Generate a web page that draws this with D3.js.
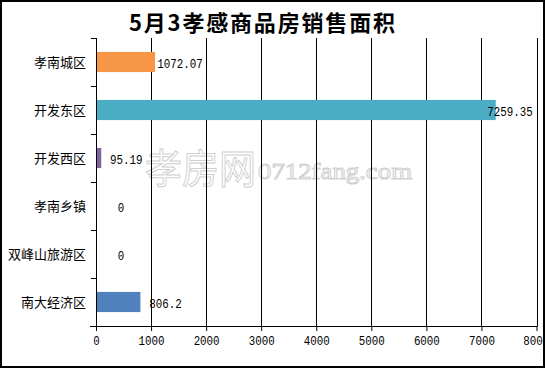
<!DOCTYPE html>
<html><head><meta charset="utf-8">
<script src="https://cdn.jsdelivr.net/npm/d3@7"></script>
<style>body{margin:0;background:#fff}svg{display:block}</style>
</head><body>
<svg id="c" width="546" height="369"></svg>
<script>
const title = "5月3孝感商品房销售面积";
const categories = ["孝南城区","开发东区","开发西区","孝南乡镇","双峰山旅游区","南大经济区"];
const values = [1072.07, 7259.35, 95.19, 0, 0, 806.2];
const valueLabels = ["1072.07","7259.35","95.19","0","0","806.2"];
const colors = ["#F79646","#4BACC6","#8064A2","#9BBB59","#C0504D","#4F81BD"];
const xTicks = [0,1000,2000,3000,4000,5000,6000,7000,8000];
const xTickLabels = ["0","1000","2000","3000","4000","5000","6000","7000","800"];

const svg = d3.select("#c");
const L = 96, R = 536.5, T = 38, B = 326;
const x = d3.scaleLinear().domain([0,8000]).range([L,R]);
const y = d3.scaleBand().domain(categories).range([T,B]).paddingInner(0.58).paddingOuter(0.29);
const monoFont = "'Liberation Mono', 'DejaVu Sans Mono', monospace";
const CW = 6.5; // digit advance

svg.append("rect").attr("x",1).attr("y",1).attr("width",543).attr("height",366)
  .attr("fill","#fff").attr("stroke","#000").attr("stroke-width",2);

svg.append("text").attr("x",262).attr("y",31).attr("text-anchor","middle")
  .attr("font-family","'Noto Sans CJK SC', sans-serif").attr("font-weight","bold")
  .attr("font-size",22).attr("textLength",266).attr("lengthAdjust","spacing")
  .attr("fill","#000").text(title);

// watermark
const wm = svg.append("g").attr("fill","none").attr("stroke","#cfcfcf").attr("stroke-width",1);
wm.append("text").attr("x",145).attr("y",183).attr("font-family","'Noto Sans CJK SC', sans-serif")
  .attr("font-size",40).attr("textLength",111).attr("lengthAdjust","spacingAndGlyphs").text("孝房网");
wm.append("text").attr("x",258).attr("y",179).attr("font-family","'Liberation Serif', serif")
  .attr("font-size",24).attr("textLength",154).attr("lengthAdjust","spacingAndGlyphs").text("0712fang.com");

// gridlines
svg.append("g").selectAll("line").data(xTicks.slice(1)).join("line")
  .attr("x1",d=>Math.round(x(d))+0.5).attr("x2",d=>Math.round(x(d))+0.5)
  .attr("y1",T).attr("y2",B).attr("stroke","#000").attr("stroke-width",1);

// bars
svg.append("g").selectAll("rect").data(categories).join("rect")
  .attr("x",x(0)).attr("y",d=>y(d)).attr("height",y.bandwidth())
  .attr("width",(d,i)=>x(values[i])-x(0)).attr("fill",(d,i)=>colors[i]);

// y axis
const yAxis = svg.append("g");
yAxis.append("line").attr("x1",L+0.5).attr("x2",L+0.5).attr("y1",T).attr("y2",B).attr("stroke","#000");
const bounds = d3.range(categories.length+1).map(i=> T + i*(B-T)/categories.length);
yAxis.selectAll(".tk").data(bounds).join("line").attr("class","tk")
  .attr("x1",L-5).attr("x2",L).attr("y1",d=>Math.round(d)+0.5).attr("y2",d=>Math.round(d)+0.5).attr("stroke","#000");
yAxis.selectAll("text").data(categories).join("text")
  .attr("x",86).attr("y",d=>y(d)+y.bandwidth()/2+1).attr("text-anchor","end")
  .attr("dominant-baseline","middle").attr("font-family","'Noto Sans CJK SC', sans-serif")
  .attr("font-size",13).attr("fill","#000").text(d=>d);

// x axis
const xAxis = svg.append("g").attr("transform",`translate(0,${B})`)
  .call(d3.axisBottom(x).tickValues(xTicks).tickSize(5).tickFormat((d,i)=>xTickLabels[i]));
xAxis.select(".domain").attr("d",`M${L-6},0.5H${R+1}`).attr("stroke","#000");
xAxis.selectAll(".tick line").attr("stroke","#000");
xAxis.selectAll(".tick text").attr("font-family",monoFont).attr("font-size",13).attr("fill","#000").attr("dy","0.85em")
  .attr("textLength",(d,i)=>xTickLabels[i].length*CW).attr("lengthAdjust","spacingAndGlyphs")
  .attr("dx",(d,i)=> i===xTicks.length-1 ? -4 : 0);

// value labels
svg.append("g").selectAll("text").data(categories).join("text")
  .attr("x",(d,i)=>Math.min(x(values[i])+25, 510))
  .attr("y",d=>y(d)+y.bandwidth()/2+3).attr("text-anchor","middle")
  .attr("dominant-baseline","middle").attr("font-family",monoFont).attr("font-size",13)
  .attr("textLength",(d,i)=>valueLabels[i].length*CW).attr("lengthAdjust","spacingAndGlyphs")
  .attr("fill","#000").text((d,i)=>valueLabels[i]);
</script>
</body></html>
